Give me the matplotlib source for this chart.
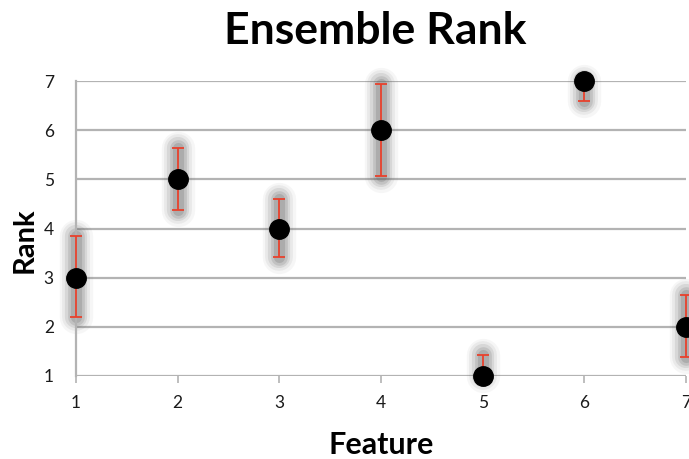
import numpy as np
import matplotlib.pyplot as plt

# data
features = [1, 2, 3, 4, 5, 6, 7]
ranks = [3, 5, 4, 6, 1, 7, 2]
err_up = [0.85, 0.64, 0.59, 0.93, 0.43, 0.40, 0.65]
err_down = [0.80, 0.63, 0.58, 0.93, 0.43, 0.40, 0.61]

plt.rcParams['font.family'] = ['Lato', 'DejaVu Sans']

fig = plt.figure(figsize=(6.89, 4.59), dpi=100)
ax = fig.add_axes([76/689, 1-376/459, 610/689, 295/459])

grid_col = '#b3b3b3'
ax.set_xlim(1, 7)
ax.set_ylim(1, 7)
ax.set_yticks(range(1, 8))
ax.set_xticks(range(1, 8))
for y in range(1, 8):
    ax.axhline(y, color=grid_col, lw=1.6, zorder=0)
for s in ['top', 'right', 'bottom']:
    ax.spines[s].set_visible(False)
ax.spines['left'].set_color(grid_col)
ax.spines['left'].set_linewidth(1.6)
ax.tick_params(axis='y', length=0, pad=16, labelsize=12.5, labelcolor='#1a1a1a')
ax.tick_params(axis='x', length=5, width=1.2, color=grid_col, pad=9,
               labelsize=12.5, labelcolor='#1a1a1a')

# error bar ends, cut at the axis range like the original
r = np.array(ranks, dtype=float)
lo = np.clip(r - np.array(err_down), 1, 7)
hi = np.clip(r + np.array(err_up), 1, 7)

# soft gray glow behind the error bars
for w, a in [(24, 0.05), (20, 0.08), (16, 0.12), (12, 0.16), (8, 0.2)]:
    for x, a0, b0 in zip(features, lo, hi):
        ax.plot([x, x], [a0, b0], color='#555555', lw=w, alpha=a,
                solid_capstyle='round', zorder=1, clip_on=False)

ax.errorbar(features, ranks, yerr=[r - lo, hi - r], fmt='none',
            ecolor='#e8412c', elinewidth=1.3, capsize=4.5, capthick=1.3,
            zorder=4, clip_on=False)
ax.plot(features, ranks, 'o', color='black', ms=14, clip_on=False, zorder=5)

fig.text(375/689, 1-31/459, 'Ensemble Rank', ha='center', va='center',
         fontsize=32, fontweight='bold')
ax.set_xlabel('Feature', fontsize=22, fontweight='bold', labelpad=14)
fig.text(25/689, 1-240/459, 'Rank', rotation=90, ha='center', va='center',
         fontsize=21, fontweight='bold')

fig.savefig('out.png', dpi=100)
